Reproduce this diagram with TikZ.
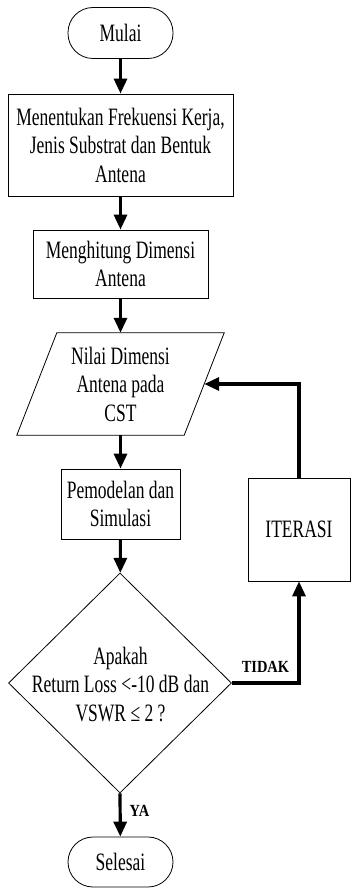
\documentclass[tikz,border=0pt]{standalone}
\usepackage{fontspec}
\setmainfont{Liberation Serif}[FakeStretch=0.70]
\newfontfamily\lblfont{Liberation Serif}[FakeStretch=0.85]
\usetikzlibrary{arrows.meta,shapes.geometric}
\begin{document}
\begin{tikzpicture}[x=1pt,y=1pt,
  txt/.style={align=center, font=\fontsize{25pt}{28.5pt}\selectfont},
  box/.style={txt, draw, line width=0.8pt, rectangle, inner sep=0pt},
  term/.style={box, rounded corners=25pt},
  flow/.style={line width=3.2pt, -{Triangle[length=15pt,width=13pt]}},
  lbl/.style={font=\lblfont\bfseries\fontsize{17pt}{20pt}\selectfont, inner sep=0pt}]
\useasboundingbox (0,0) rectangle (351,-888);
\node[term, minimum width=105pt, minimum height=51pt] (start) at (120.5,-33) {Mulai};
\node[box, minimum width=225pt, minimum height=102pt] (b1) at (120.5,-145) {Menentukan Frekuensi Kerja,\\Jenis Substrat dan Bentuk\\Antena};
\node[box, minimum width=175pt, minimum height=68pt] (b2) at (120.5,-264) {Menghitung Dimensi\\Antena};
\node[txt, inner sep=0pt, minimum width=167pt, minimum height=102pt] (para) at (120.5,-384) {Nilai Dimensi\\Antena pada\\CST};
\draw[line width=0.8pt] ([xshift=20pt]para.north west) -- ([xshift=20pt]para.north east) -- ([xshift=-20pt]para.south east) -- ([xshift=-20pt]para.south west) -- cycle;
\node[box, minimum width=119pt, minimum height=70pt] (sim) at (120.5,-504) {Pemodelan dan\\Simulasi};
\node[box, minimum width=102pt, minimum height=103pt] (iter) at (299,-529.5) {ITERASI};
\node[draw, diamond, line width=0.8pt, minimum width=223pt, minimum height=220pt, inner sep=0pt] (dec) at (120,-683) {};
\node[txt, inner sep=0pt] (dectext) at (120.5,-684.5) {Apakah\\Return Loss <-10 dB dan\\VSWR ≤ 2 ?};
\node[term, minimum width=105pt, minimum height=50pt] (end) at (120.5,-862) {Selesai};
\draw[flow] (start) -- (b1);
\draw[flow] (b1) -- (b2);
\draw[flow] (b2) -- (para);
\draw[flow] (para) -- (sim);
\draw[flow] (sim) -- (dec);
\draw[flow] (dec.south) -- node[lbl, right=8pt, pos=0.4] (ya) {YA} (end);
\draw[flow] (dec.east) -| node[lbl, above=9pt, pos=0.25] (tidak) {TIDAK} (iter.south);
\draw[flow] (iter.north) |- (para.east);
\end{tikzpicture}
\end{document}
